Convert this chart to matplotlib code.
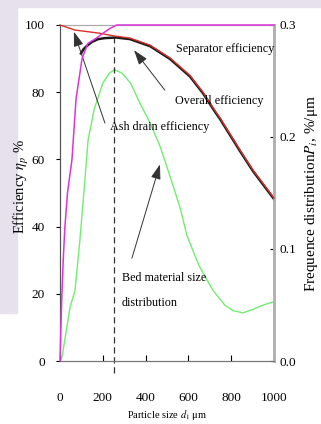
import matplotlib
matplotlib.use("Agg")
import matplotlib.pyplot as plt
from matplotlib.patches import Rectangle

plt.rcParams['font.family'] = ['Liberation Serif', 'DejaVu Serif']
plt.rcParams['mathtext.fontset'] = 'stix'

# separator efficiency (magenta)
sep_x = [0, 5, 9, 15, 23, 35, 56, 75, 103, 130, 163, 200, 234, 266, 1000]
sep_y = [0, 12, 20, 30, 40, 50, 60, 78, 90, 94.5, 95.8, 97.5, 99, 100, 100]

# ash drain efficiency (red)
ash_x = [0, 70, 180, 257, 327, 421, 514, 607, 668, 724, 748, 841, 902, 1000]
ash_y = [100, 98.5, 97.6, 96.7, 96.1, 94, 90.2, 85, 80, 74.5, 72.3, 62.8, 56.8, 48.5]

# overall efficiency (black), lower part hidden under the separator curve
ovr_x = [98, 110, 126, 150, 178, 210, 243, 260, 327, 421, 514,
         607, 668, 724, 748, 841, 902, 1000]
ovr_y = [91.5, 92.8, 93.8, 95, 95.8, 96.1, 96.2, 96.3, 95.8, 93.7, 89.9,
         84.7, 79.7, 74.2, 72, 62.5, 56.5, 48.2]

# bed material size distribution (green, right axis)
bed_x = [0, 10, 47, 70, 93, 117, 131, 160, 200, 230, 255, 290, 330, 374, 420, 467,
         514, 561, 593, 650, 715, 770, 808, 855, 900, 950, 1000]
bed_y = [0, 0.004, 0.048, 0.063, 0.108, 0.163, 0.197, 0.225, 0.248, 0.257, 0.26,
         0.257, 0.248, 0.23, 0.213, 0.192, 0.165, 0.137, 0.112, 0.085, 0.063, 0.05,
         0.045, 0.043, 0.046, 0.05, 0.053]

mean_size = 250

fig = plt.figure(figsize=(3.21, 4.24), dpi=100)
fig.patch.set_facecolor('white')
bg = '#e6e1ec'
fig.patches.append(Rectangle((0, 1 - 7/424), 1, 7/424, transform=fig.transFigure,
                             color=bg, zorder=-5))
fig.patches.append(Rectangle((0, 111/424), 17/321, 1 - 111/424, transform=fig.transFigure,
                             color=bg, zorder=-5))

ax = fig.add_axes([60/321, 63/424, 214/321, 336/424])
ax2 = ax.twinx()
ax.set_zorder(ax2.get_zorder() + 1)
ax.patch.set_visible(False)

ax2.plot(bed_x, bed_y, color='#70ee70', lw=1.0)
ax2.set_ylim(0, 0.3)
ax2.set_yticks([0.0, 0.1, 0.2, 0.3])
ax2.set_yticklabels(['0.0', '0.1', '0.2', '0.3'])

ax.plot(ovr_x, ovr_y, color='#1a1a1a', lw=1.8, zorder=2)
ax.plot(ash_x, ash_y, color='#d8302a', lw=1.0, zorder=3, clip_on=False)
ax.plot(sep_x, sep_y, color='#dd33dd', lw=1.1, zorder=4, clip_on=False)
ax.plot([mean_size, mean_size], [-3.5, 97.5], color='#333333', lw=0.9,
        ls=(0, (5, 3)), clip_on=False, zorder=1)

ax.set_xlim(0, 1000)
ax.set_ylim(0, 100)
ax.set_xticks([0, 200, 400, 600, 800, 1000])
ax.set_yticks([0, 20, 40, 60, 80, 100])

ax.tick_params(axis='x', direction='in', length=4, pad=22, labelsize=9.5)
ax.tick_params(axis='y', direction='out', length=3, pad=8, labelsize=9.5)
ax2.tick_params(axis='y', direction='in', length=3, pad=4, labelsize=9.5)

for a in (ax, ax2):
    a.spines['top'].set_color('#aaaaaa')
    a.spines['left'].set_color('#555555')
    a.spines['bottom'].set_color('#777777')
    a.spines['right'].set_color('#b0b0b0')
    a.spines['right'].set_linewidth(1.8)

ax.set_xlabel('Particle size $d_1$ \u03bcm', fontsize=7.5)
ax.xaxis.set_label_coords(0.5, -0.14)
ax.set_ylabel('Efficiency $\\eta_p$ %', fontsize=10.5)
ax.yaxis.set_label_coords(-0.135, 0.52)
ax2.set_ylabel('Frequence distribution$P_i$, %/\u03bcm', fontsize=11)
ax2.yaxis.set_label_coords(1.135, 0.5)

arrow = dict(arrowstyle='-|>,head_length=0.9,head_width=0.3', color='#333333',
             lw=0.7, mutation_scale=10, shrinkA=0, shrinkB=0)
fs = 8.7

ax.text(542, 93, 'Separator efficiency', fontsize=fs, ha='left', va='center')
ax.annotate('', xy=(257, 100.3), xytext=(540, 93.5), arrowprops=arrow)

ax.text(537, 77.4, 'Overall efficiency', fontsize=fs, ha='left', va='center')
ax.annotate('', xy=(346, 92.5), xytext=(490, 80.6), arrowprops=arrow)

ax.text(234, 69.6, 'Ash drain efficiency', fontsize=fs, ha='left', va='center')
ax.annotate('', xy=(65, 98), xytext=(210, 70.8), arrowprops=arrow)

ax.text(290, 24.7, 'Bed material size', fontsize=fs, ha='left', va='center')
ax.text(290, 17.3, 'distribution', fontsize=fs, ha='left', va='center')
ax.annotate('', xy=(467, 58.5), xytext=(336, 30.6), arrowprops=arrow)

fig.savefig('out.png', dpi=100)
